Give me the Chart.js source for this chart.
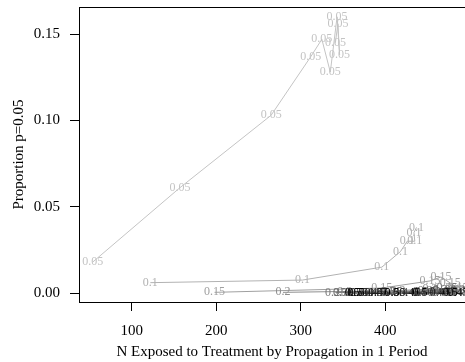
<!DOCTYPE html>
<html>
<head>
<meta charset="utf-8">
<script src="https://cdn.jsdelivr.net/npm/chart.js@4/dist/chart.umd.min.js"></script>
<style>
  html, body { margin: 0; padding: 0; background: #fff; }
</style>
</head>
<body>
<canvas id="propChart" width="465" height="362"></canvas>
<script>
// propagation probability of each series (also the text printed at every point)
var propagation = ["0.05", "0.1", "0.15", "0.2", "0.25", "0.3", "0.35", "0.4", "0.45", "0.5"];
var lineColors = ["#c4c4c4", "#b2b2b2", "#a0a0a0", "#8e8e8e", "#7a7a7a", "#666666", "#505050", "#3a3a3a", "#1c1c1c", "#000000"];

// N exposed (x) and proportion p=0.05 (y), one list per series
var nExposed = [
  [54, 157, 265, 312, 325, 335, 343, 346, 344, 341],
  [122, 302, 396, 418, 426, 435, 434, 437],
  [198, 396, 453, 466, 477, 486],
  [279, 352, 415, 453, 479, 491],
  [341, 408, 451, 473, 489],
  [347, 403, 441, 465, 486],
  [368, 412, 447, 471, 491],
  [377, 418, 439, 459, 483],
  [385, 388, 392, 429, 465, 486],
  [361, 364, 367, 408, 441, 477]
];
var proportion = [
  [0.018, 0.061, 0.103, 0.137, 0.147, 0.128, 0.160, 0.138, 0.156, 0.145],
  [0.006, 0.0075, 0.015, 0.024, 0.030, 0.030, 0.035, 0.038],
  [0.0004, 0.0029, 0.007, 0.0093, 0.0058, 0.0029],
  [0.0004, 0.0009, 0.0014, 0.0023, 0.0017, 0.0012],
  [0.0003, 0.0009, 0.0014, 0.0029, 0.0017],
  [0.0003, 0.0006, 0.0009, 0.0017, 0.0012],
  [0.0, 0.0003, 0.0006, 0.0009, 0.0006],
  [0.0, 0.0, 0.0003, 0.0003, 0.0003],
  [0.0, 0.0, 0.0, 0.0, 0.0, 0.0],
  [0.0, 0.0, 0.0, 0.0, 0.0, 0.0]
];

var xTicks = [100, 200, 300, 400];
var yTicks = [0, 0.05, 0.10, 0.15];

var datasets = propagation.map(function (p, i) {
  return {
    label: p,
    data: nExposed[i].map(function (n, j) { return { x: n, y: proportion[i][j] }; }),
    showLine: true,
    borderColor: lineColors[i],
    backgroundColor: lineColors[i],
    borderWidth: 1,
    pointRadius: 0,
    tension: 0
  };
});

// text label at each point + top edge of the box
var pointLabels = {
  id: 'pointLabels',
  afterDatasetsDraw: function (chart) {
    var ctx = chart.ctx, a = chart.chartArea;
    ctx.save();
    ctx.beginPath();
    ctx.rect(a.left, a.top, a.right - a.left, a.bottom - a.top);
    ctx.clip();
    ctx.font = '12px "Liberation Serif"';
    ctx.textAlign = 'center';
    ctx.textBaseline = 'middle';
    chart.data.datasets.forEach(function (ds, i) {
      ctx.fillStyle = ds.borderColor;
      chart.getDatasetMeta(i).data.forEach(function (pt) {
        ctx.fillText(ds.label, pt.x, pt.y);
      });
    });
    ctx.restore();

    ctx.save();
    ctx.strokeStyle = '#000';
    ctx.lineWidth = 1;
    ctx.beginPath();
    ctx.moveTo(a.left, a.top + 0.5);
    ctx.lineTo(a.right, a.top + 0.5);
    ctx.stroke();
    ctx.restore();
  }
};

var serif = { family: '"Liberation Serif"', size: 15 };

new Chart(document.getElementById('propChart').getContext('2d'), {
  type: 'scatter',
  data: { datasets: datasets },
  options: {
    responsive: false,
    animation: false,
    devicePixelRatio: 1,
    layout: { padding: { top: 7, right: 0, left: 0, bottom: 0 } },
    plugins: { legend: { display: false }, tooltip: { enabled: false } },
    scales: {
      x: {
        type: 'linear',
        position: 'bottom',
        min: 37.6,
        max: 494.4,
        afterBuildTicks: function (s) { s.ticks = xTicks.map(function (v) { return { value: v }; }); },
        afterFit: function (s) { s.height = 60; s.paddingLeft = 0; s.paddingRight = 0; },
        ticks: { font: serif, color: '#000', padding: 11, maxRotation: 0, autoSkip: false },
        grid: { drawOnChartArea: false, drawTicks: true, tickLength: 9, color: '#000' },
        border: { display: true, color: '#000' },
        title: { display: true, text: 'N Exposed to Treatment by Propagation in 1 Period', font: serif, color: '#000', padding: { top: 0, bottom: 1 } }
      },
      y: {
        type: 'linear',
        min: -0.0052,
        max: 0.1657,
        afterBuildTicks: function (s) { s.ticks = yTicks.map(function (v) { return { value: v }; }); },
        afterFit: function (s) { s.width = 79; s.paddingTop = 0; s.paddingBottom = 0; },
        ticks: { font: serif, color: '#000', padding: 10, callback: function (v) { return v.toFixed(2); } },
        grid: { drawOnChartArea: false, drawTicks: true, tickLength: 9, color: '#000' },
        border: { display: true, color: '#000' },
        title: { display: true, text: 'Proportion p=0.05', font: serif, color: '#000', padding: { top: 10, bottom: 0 } }
      }
    }
  },
  plugins: [pointLabels]
});
</script>
</body>
</html>
